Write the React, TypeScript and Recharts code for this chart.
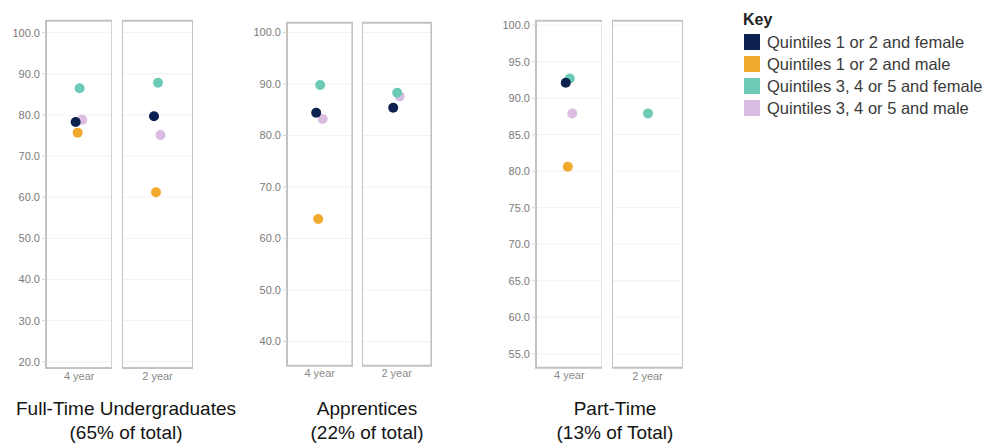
import {
  ScatterChart,
  Scatter,
  XAxis,
  YAxis,
  CartesianGrid,
  ReferenceArea,
} from 'recharts';

const periods = ['4 year', '2 year'];

const seriesNames = [
  'Quintiles 1 or 2 and female',
  'Quintiles 1 or 2 and male',
  'Quintiles 3, 4 or 5 and female',
  'Quintiles 3, 4 or 5 and male',
];
const seriesColors = ['#0c2150', '#f2aa2e', '#6dcab5', '#dbbde3'];
// small sideways nudge so overlapping dots stay visible
const seriesNudge = [-3.5, -1.5, 0.5, 3];
// pink first, navy last (navy sits on top)
const drawOrder = [3, 2, 1, 0];

// values are [4 year, 2 year]
const fullTimeQ12Female = [78.3, 79.7];
const fullTimeQ12Male = [75.7, 61.2];
const fullTimeQ345Female = [86.5, 87.8];
const fullTimeQ345Male = [78.8, 75.1];

const apprenticeQ12Female = [84.4, 85.4];
const apprenticeQ12Male = [63.8, null];
const apprenticeQ345Female = [89.8, 88.3];
const apprenticeQ345Male = [83.2, 87.6];

const partTimeQ12Female = [92.1, null];
const partTimeQ12Male = [80.6, null];
const partTimeQ345Female = [92.7, 87.9];
const partTimeQ345Male = [87.9, null];

const fullTimeTicks = [20, 30, 40, 50, 60, 70, 80, 90, 100];
const apprenticeTicks = [40, 50, 60, 70, 80, 90, 100];
const partTimeTicks = [55, 60, 65, 70, 75, 80, 85, 90, 95, 100];

const panels = [
  {
    title: 'Full-Time Undergraduates',
    share: '(65% of total)',
    values: [fullTimeQ12Female, fullTimeQ12Male, fullTimeQ345Female, fullTimeQ345Male],
    ticks: fullTimeTicks,
    domain: [18.5, 102.9],
    boxes: [[45.7, 112], [121.7, 192.7]],
    top: 20.7,
    bottom: 368,
    titleX: 126,
  },
  {
    title: 'Apprentices',
    share: '(22% of total)',
    values: [apprenticeQ12Female, apprenticeQ12Male, apprenticeQ345Female, apprenticeQ345Male],
    ticks: apprenticeTicks,
    domain: [35.3, 101.9],
    boxes: [[287.3, 352.7], [362.3, 431.7]],
    top: 22.7,
    bottom: 365.7,
    titleX: 367,
  },
  {
    title: 'Part-Time',
    share: '(13% of Total)',
    values: [partTimeQ12Female, partTimeQ12Male, partTimeQ345Female, partTimeQ345Male],
    ticks: partTimeTicks,
    domain: [53.1, 100.6],
    boxes: [[535.7, 602.3], [611.7, 682.7]],
    top: 20.7,
    bottom: 367.7,
    titleX: 615,
  },
];

const CHART_H = 395;
const AXIS_W = 44;
const X_AXIS_H = 20;
const FONT = 'Liberation Sans, Arial, sans-serif';

function Facet({ panel, periodIndex }: { panel: any; periodIndex: number }) {
  const showAxis = periodIndex === 0;
  const [boxL, boxR] = panel.boxes[periodIndex];
  const width = boxR - boxL + (showAxis ? AXIS_W : 0);
  const left = boxL - (showAxis ? AXIS_W : 0);

  return (
    <div style={{ position: 'absolute', left, top: 0 }}>
      <ScatterChart
        width={width}
        height={CHART_H}
        margin={{ top: panel.top, right: 0, left: 0, bottom: CHART_H - panel.bottom - X_AXIS_H }}
      >
        <CartesianGrid vertical={false} stroke="#f1f1f1" />
        <XAxis
          type="number"
          dataKey="x"
          domain={[-1, 1]}
          ticks={[0]}
          tickFormatter={() => periods[periodIndex]}
          height={X_AXIS_H}
          axisLine={false}
          tickLine={false}
          tickSize={4}
          tickMargin={0}
          tick={{ fontSize: 11, fill: '#8a8a8a', fontFamily: FONT }}
        />
        <YAxis
          type="number"
          dataKey="y"
          domain={panel.domain}
          ticks={panel.ticks}
          allowDataOverflow
          hide={!showAxis}
          width={AXIS_W}
          axisLine={false}
          tickLine={{ stroke: '#d4d4d4' }}
          tickSize={4}
          tickMargin={2}
          tickFormatter={(v: number) => v.toFixed(1)}
          tick={{ fontSize: 11, fill: '#7a7a7a', fontFamily: FONT }}
        />
        <ReferenceArea
          y1={panel.domain[0]}
          y2={panel.domain[1]}
          fill="none"
          stroke="#c2c2c2"
          strokeWidth={2}
          ifOverflow="visible"
        />
        {drawOrder.map((s) => {
          const v = panel.values[s][periodIndex];
          const data = v == null ? [] : [{ x: 0, y: v }];
          return (
            <Scatter
              key={s}
              name={seriesNames[s]}
              data={data}
              fill={seriesColors[s]}
              isAnimationActive={false}
              shape={(p: any) => (
                <circle cx={p.cx + seriesNudge[s]} cy={p.cy} r={5} fill={seriesColors[s]} />
              )}
            />
          );
        })}
      </ScatterChart>
    </div>
  );
}

export default function App() {
  return (
    <div
      style={{
        position: 'absolute',
        left: 0,
        top: 0,
        width: 1000,
        height: 446,
        background: '#fff',
        overflow: 'hidden',
        fontFamily: FONT,
      }}
    >
      {panels.map((panel) =>
        periods.map((_, i) => <Facet key={panel.title + i} panel={panel} periodIndex={i} />)
      )}

      {panels.map((panel) => (
        <div
          key={panel.title}
          style={{
            position: 'absolute',
            left: panel.titleX - 150,
            top: 397,
            width: 300,
            textAlign: 'center',
            fontSize: 19,
            lineHeight: '24px',
            color: '#141414',
          }}
        >
          <div>{panel.title}</div>
          <div>{panel.share}</div>
        </div>
      ))}

      <div style={{ position: 'absolute', left: 743, top: 9 }}>
        <div style={{ fontWeight: 'bold', fontSize: 16, color: '#222', lineHeight: '22px' }}>Key</div>
        {seriesNames.map((name, i) => (
          <div
            key={name}
            style={{ display: 'flex', alignItems: 'center', height: 22, fontSize: 16.5, color: '#3a3a3a' }}
          >
            <span
              style={{
                display: 'inline-block',
                width: 16,
                height: 16,
                background: seriesColors[i],
                marginRight: 7,
                marginLeft: 1,
              }}
            />
            <span style={{ whiteSpace: 'nowrap' }}>{name}</span>
          </div>
        ))}
      </div>
    </div>
  );
}
